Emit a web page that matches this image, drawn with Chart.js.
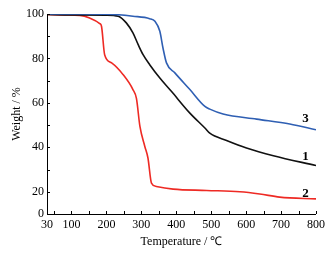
<!DOCTYPE html>
<html><head><meta charset="utf-8">
<script src="https://cdn.jsdelivr.net/npm/chart.js@4/dist/chart.umd.min.js"></script>
<style>html,body{margin:0;padding:0;background:#fff}#wrap{width:331px;height:255px}</style>
</head><body><div id="wrap"><canvas id="c" width="331" height="255"></canvas></div>
<script>
const temp1 = [30, 100, 200, 234, 257, 276, 291, 305, 324, 353, 386, 439, 482, 496, 544, 601, 678, 800];
const weight1 = [99.8, 99.6, 99.5, 99.0, 96, 91.5, 86.2, 81.7, 77.2, 71.2, 65.2, 55.4, 48.7, 46.4, 43.1, 39.7, 36.2, 31.8];
const temp2 = [30, 80, 124, 152, 181, 186, 195, 215, 248, 276, 286, 296, 310, 319, 329, 343, 391, 487, 582, 639, 696, 800];
const weight2 = [99.8, 99.6, 99.4, 98.2, 95.7, 94.5, 81.7, 78, 72.7, 66, 62, 49.4, 40.4, 35.2, 23.9, 22.4, 21.2, 20.6, 20, 19, 17.6, 16.8];
const temp3 = [30, 120, 219, 276, 324, 339, 353, 362, 372, 396, 439, 482, 496, 534, 630, 725, 800];
const weight3 = [100, 100, 99.8, 99, 97.9, 96.7, 92.2, 84.7, 78, 73.5, 66, 58.4, 57.2, 55, 52.7, 50.5, 47.9];
const seriesNames = ["1", "2", "3"];
const seriesColors = ["#111111", "#ee2a24", "#2f5fb3"];
const labelAnchors = [[770, 35.7], [770, 19.0], [770, 52.7]];
const xTickValues = [30, 100, 200, 300, 400, 500, 600, 700, 800];
const yTickValues = [10, 20, 30, 40, 50, 60, 70, 80, 90, 100];

const toPts = (xs, ys) => xs.map((x, i) => ({x: x, y: ys[i]}));
const FONT = "'Liberation Serif', 'Times New Roman', serif";

const tickPlugin = {
  id: 'inTicks',
  afterDatasetsDraw(chart) {
    const ctx = chart.ctx, xs = chart.scales.x, ys = chart.scales.y, a = chart.chartArea;
    ctx.save();
    ctx.strokeStyle = '#000'; ctx.lineWidth = 1;
    ctx.beginPath();
    ctx.moveTo(a.left + 0.5, a.top); ctx.lineTo(a.left + 0.5, a.bottom + 0.5);
    ctx.lineTo(a.right, a.bottom + 0.5);
    ctx.stroke();
    ctx.beginPath();
    for (let v = 50; v <= 800; v += 50) {
      const px = Math.round(xs.getPixelForValue(v)) + 0.5;
      ctx.moveTo(px, a.bottom); ctx.lineTo(px, a.bottom - 3);
    }
    for (const v of yTickValues) {
      const py = Math.round(ys.getPixelForValue(v)) + 0.5;
      ctx.moveTo(a.left, py); ctx.lineTo(a.left + 3, py);
    }
    ctx.stroke();
    ctx.fillStyle = '#000';
    ctx.font = "bold 13px " + FONT;
    ctx.textAlign = 'center'; ctx.textBaseline = 'middle';
    labelAnchors.forEach((p, i) => {
      ctx.fillText(seriesNames[i], xs.getPixelForValue(p[0]), ys.getPixelForValue(p[1]));
    });
    ctx.restore();
  }
};

const mkDs = (xs, ys, i) => ({
  label: seriesNames[i], data: toPts(xs, ys), borderColor: seriesColors[i],
  borderWidth: 1.6, pointRadius: 0, fill: false, cubicInterpolationMode: 'monotone'
});

new Chart(document.getElementById('c'), {
  type: 'scatter',
  data: { datasets: [mkDs(temp3, weight3, 2), mkDs(temp1, weight1, 0), mkDs(temp2, weight2, 1)] },
  options: {
    responsive: false, animation: false, showLine: true,
    layout: { padding: { top: 14, right: 15, left: 0, bottom: 0 } },
    plugins: { legend: { display: false }, tooltip: { enabled: false } },
    scales: {
      x: {
        type: 'linear', min: 30, max: 800,
        afterBuildTicks: s => { s.ticks = xTickValues.map(v => ({value: v})); },
        afterFit: s => { s.height = 41; },
        grid: { display: false, drawTicks: false },
        border: { display: false },
        ticks: { color: '#000', font: { family: FONT, size: 12 }, padding: 4, maxRotation: 0, autoSkip: false },
        title: { display: true, text: 'Temperature / ℃', color: '#000', font: { family: FONT, size: 12 }, padding: { top: 2, bottom: 6 } }
      },
      y: {
        type: 'linear', min: 10, max: 100,
        afterBuildTicks: s => { s.ticks = yTickValues.map(v => ({value: v})); },
        afterFit: s => { s.width = 47; },
        grid: { display: false, drawTicks: false },
        border: { display: false },
        ticks: {
          color: '#000', font: { family: FONT, size: 12 }, padding: 3, autoSkip: false,
          callback: v => v === 10 ? '0' : (v % 20 === 0 ? String(v) : '')
        },
        title: { display: true, text: 'Weight / %', color: '#000', font: { family: FONT, size: 12 }, padding: { top: 10, bottom: 2 } }
      }
    }
  },
  plugins: [tickPlugin]
});
</script></body></html>
